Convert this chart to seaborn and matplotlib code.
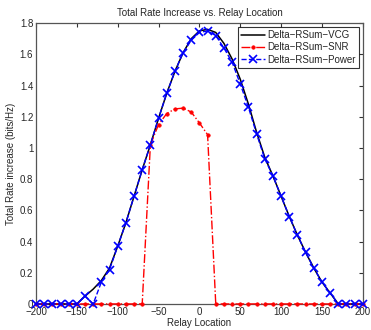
import numpy as np
import pandas as pd
import matplotlib
matplotlib.use("Agg")
import matplotlib.pyplot as plt
import seaborn as sns

# relay positions (step 10)
location = list(range(-200, 201, 10))

vcg = [0, 0, 0, 0, 0, 0, 0.05, 0.095, 0.15, 0.23, 0.37,
       0.52, 0.69, 0.86, 1.02, 1.19, 1.35, 1.49, 1.61, 1.70, 1.75,
       1.76, 1.74, 1.67, 1.57, 1.44, 1.28, 1.10, 0.94, 0.82, 0.69,
       0.56, 0.44, 0.33, 0.23, 0.14, 0.07, 0, 0, 0, 0]

snr = [0, 0, 0, 0, 0, 0, 0, 0, 0, 0, 0,
       0, 0, 0, 1.02, 1.15, 1.22, 1.25, 1.255, 1.23, 1.16,
       1.085, 0, 0, 0, 0, 0, 0, 0, 0, 0,
       0, 0, 0, 0, 0, 0, 0, 0, 0, 0]

power = [0, 0, 0, 0, 0, 0, 0.05, 0.0, 0.14, 0.22, 0.37,
         0.52, 0.69, 0.86, 1.02, 1.19, 1.35, 1.49, 1.61, 1.69, 1.74,
         1.75, 1.72, 1.64, 1.55, 1.41, 1.26, 1.09, 0.93, 0.82, 0.69,
         0.56, 0.44, 0.33, 0.23, 0.14, 0.07, 0, 0, 0, 0]

sns.set_style("white")
plt.rcParams['font.family'] = ['Liberation Sans', 'DejaVu Sans']

fig = plt.figure(figsize=(3.71, 3.30), dpi=100)
ax = fig.add_axes([0.097, 0.079, 0.881, 0.851])

sns.lineplot(x=location, y=vcg, ax=ax, color='black', linewidth=1.1,
             label='Delta\u2212RSum\u2212VCG', clip_on=False, zorder=3)
sns.lineplot(x=location, y=snr, ax=ax, color='red', linewidth=1.0,
             linestyle='-.', marker='.', markersize=5,
             markeredgecolor='red', markeredgewidth=0.5,
             label='Delta\u2212RSum\u2212SNR', clip_on=False, zorder=4)
sns.lineplot(x=location, y=power, ax=ax, color='blue', linewidth=1.0,
             linestyle='--', marker='x', markersize=6,
             markeredgecolor='blue', markeredgewidth=1.2,
             label='Delta\u2212RSum\u2212Power', clip_on=False, zorder=5)

ax.set_xlim(-200, 200)
ax.set_ylim(0, 1.8)
ax.set_xticks(range(-200, 201, 50))
ax.set_yticks(np.arange(0, 1.81, 0.2))
ax.set_yticklabels(['0', '0.2', '0.4', '0.6', '0.8', '1', '1.2', '1.4', '1.6', '1.8'])
ax.set_xticklabels([str(v).replace('-', '\u2212') for v in range(-200, 201, 50)])
ax.tick_params(direction='in', top=True, right=True, length=3, width=0.8,
               labelsize=7, pad=2, color='#333333')
for s in ax.spines.values():
    s.set_color('#555555')
    s.set_linewidth(0.9)

ax.set_title('Total Rate Increase vs. Relay Location', fontsize=7, pad=5)
ax.set_xlabel('Relay Location', fontsize=7, labelpad=1)
ax.set_ylabel('Total Rate increase (bits/Hz)', fontsize=7, labelpad=3)

leg = ax.legend(loc='upper right', fontsize=7, frameon=True, fancybox=False,
                edgecolor='black', borderpad=0.3, labelspacing=0.25,
                handlelength=2.4, handletextpad=0.3, borderaxespad=0.4)
leg.get_frame().set_linewidth(0.8)
leg.set_zorder(10)

fig.savefig('out.png', dpi=100)
